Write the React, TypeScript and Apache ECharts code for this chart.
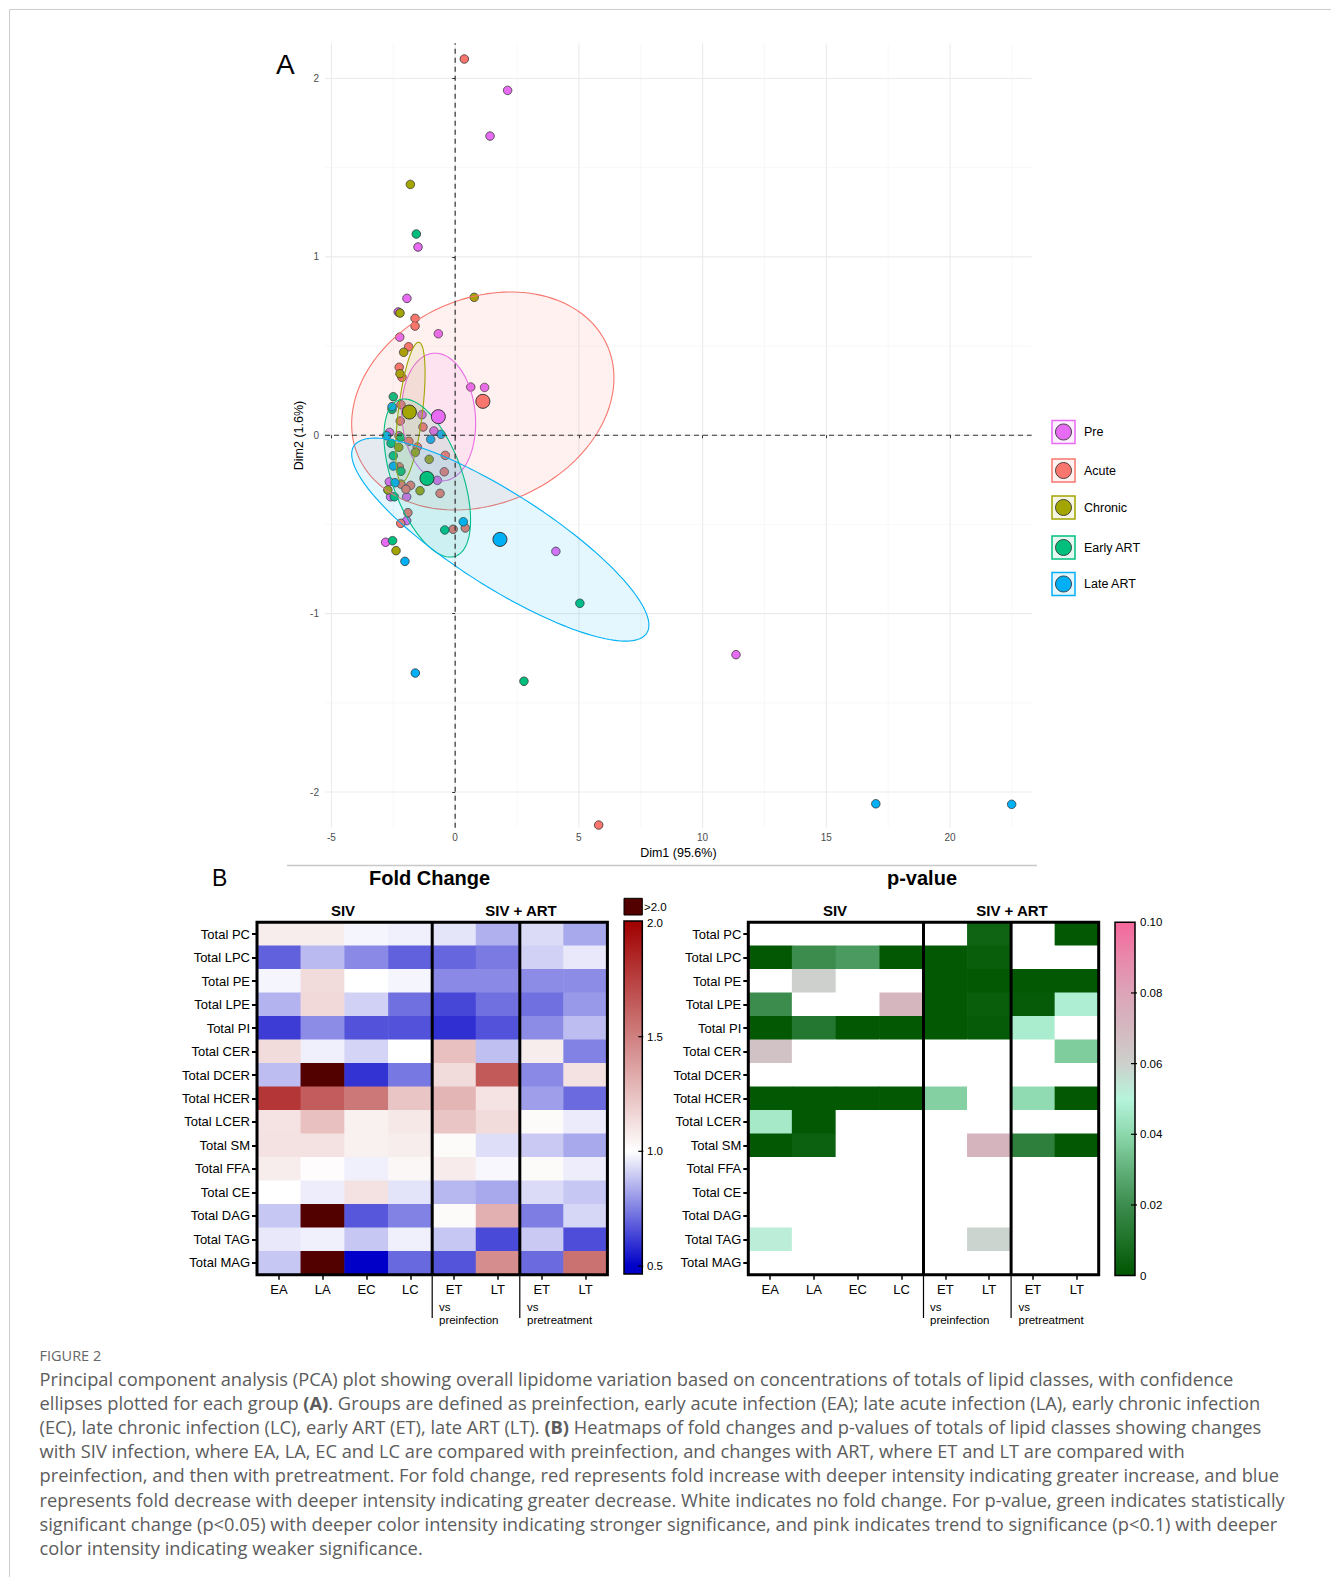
import React, { useEffect, useRef } from 'react';
import * as echarts from 'echarts';

// ---------------- Panel A : PCA ----------------
const groupNames = ['Pre', 'Acute', 'Chronic', 'Early ART', 'Late ART'];
const groupColors = ['#E76BF3', '#F8766D', '#A3A500', '#00BF7D', '#00B0F6'];

const prePoints = [[2.12,1.933],[1.41,1.677],[-1.50,1.055],[-1.95,0.767],[-2.30,0.691],[-0.68,0.569],[-2.24,0.550],[0.63,0.270],[1.19,0.268],[-1.34,0.115],[-0.86,0.024],[-2.65,0.016],[-2.27,-0.003],[-0.72,-0.253],[-2.66,-0.261],[-2.61,-0.345],[-1.96,-0.345],[-1.96,-0.479],[-2.81,-0.600],[4.07,-0.651],[11.35,-1.230]];
const acutePoints = [[0.37,2.109],[-1.62,0.655],[-1.62,0.612],[-1.88,0.496],[-2.26,0.381],[-2.15,0.325],[-2.19,0.171],[-2.22,0.080],[-1.30,0.046],[-1.87,-0.034],[-1.53,-0.066],[-0.40,-0.113],[-2.26,-0.177],[-0.44,-0.205],[-1.80,-0.281],[-2.19,-0.274],[-1.99,-0.303],[-0.61,-0.326],[-1.91,-0.434],[-2.20,-0.494],[-0.08,-0.527],[0.41,-0.520],[5.80,-2.185]];
const chronicPoints = [[-1.81,1.406],[0.77,0.773],[-2.23,0.685],[-2.08,0.465],[-2.23,0.345],[-2.28,-0.068],[-1.61,-0.096],[-1.05,-0.135],[-2.72,-0.307],[-1.42,-0.311],[-2.39,-0.647]];
const earlyArtPoints = [[-1.57,1.128],[-2.50,0.216],[-2.55,0.145],[-2.20,-0.012],[-2.59,-0.045],[-2.50,-0.115],[-2.19,-0.202],[-2.46,-0.345],[-0.42,-0.531],[-2.53,-0.591],[5.04,-0.942],[2.78,-1.379]];
const lateArtPoints = [[-2.55,0.160],[-0.57,0.005],[-2.77,-0.003],[-0.99,-0.023],[-2.50,-0.173],[-2.43,-0.266],[0.33,-0.485],[-2.03,-0.707],[-1.61,-1.333],[17.0,-2.066],[22.49,-2.069]];
const groupPoints = [prePoints, acutePoints, chronicPoints, earlyArtPoints, lateArtPoints];

// group means (large points)
const centroids = [[-0.68,0.104],[1.12,0.190],[-1.85,0.130],[-1.14,-0.242],[1.81,-0.584]];
// confidence ellipses: [centre x, centre y, half width, half height, y offset of right-most point]
const ellipses = [
  [-0.667, 0.102, 1.495, 0.358, -0.034],
  [1.117, 0.192, 5.30, 0.611, 0.129],
  [-1.81, 0.130, 0.594, 0.391, 0.219],
  [-1.127, -0.240, 1.75, 0.443, -0.235],
  [1.824, -0.585, 6.006, 0.569, -0.479],
];

const xLim = [-5.26, 23.3];
const yLim = [-2.2, 2.197];
const xTicks = [-5, 0, 5, 10, 15, 20];
const xMinor = [-2.5, 2.5, 7.5, 12.5, 17.5, 22.5];
const yTicks = [-2, -1, 0, 1, 2];
const yMinor = [-1.5, -0.5, 0.5, 1.5];

// ---------------- Panel B : heatmaps ----------------
const rowLabels = ['Total PC','Total LPC','Total PE','Total LPE','Total PI','Total CER','Total DCER','Total HCER','Total LCER','Total SM','Total FFA','Total CE','Total DAG','Total TAG','Total MAG'];
const colKeys = ['EA','LA','EC','LC','ET1','LT1','ET2','LT2'];
const colLabels = ['EA','LA','EC','LC','ET','LT','ET','LT'];

// 2.5 stands for ">2.0"
const foldChange = [
  [1.07,1.07,0.98,0.97,0.95,0.845,0.93,0.83],
  [0.69,0.865,0.77,0.69,0.70,0.74,0.91,0.955],
  [0.98,1.14,1.0,0.98,0.77,0.77,0.775,0.775],
  [0.85,1.15,0.91,0.72,0.64,0.72,0.72,0.80],
  [0.62,0.775,0.66,0.66,0.595,0.66,0.775,0.87],
  [1.14,0.97,0.915,1.0,1.25,0.875,1.07,0.755],
  [0.87,2.5,0.60,0.735,1.14,1.65,0.77,1.12],
  [1.79,1.64,1.53,1.23,1.29,1.11,0.81,0.71],
  [1.11,1.25,1.06,1.09,1.23,1.14,1.02,0.96],
  [1.12,1.12,1.06,1.07,1.02,0.935,0.895,0.83],
  [1.07,1.01,0.97,1.03,1.08,0.985,1.02,0.965],
  [1.0,0.965,1.12,0.945,0.86,0.83,0.93,0.89],
  [0.89,2.5,0.67,0.755,1.02,1.31,0.745,0.92],
  [0.955,0.97,0.89,0.97,0.89,0.645,0.895,0.65],
  [0.89,2.5,0.5,0.705,0.665,1.45,0.71,1.56],
];
// 1 = not significant (p > 0.1)
const pValues = [
  [1,1,1,1,1,0.005,1,0.001],
  [0.001,0.02,0.024,0.001,0.001,0.003,1,1],
  [1,0.06,1,1,0.001,0.001,0.001,0.001],
  [0.02,1,1,0.071,0.001,0.003,0.002,0.048],
  [0.001,0.012,0.001,0.001,0.001,0.002,0.047,1],
  [0.066,1,1,1,1,1,1,0.037],
  [1,1,1,1,1,1,1,1],
  [0.001,0.001,0.001,0.001,0.038,1,0.041,0.001],
  [0.046,0.001,1,1,1,1,1,1],
  [0.001,0.004,1,1,1,0.072,0.015,0.001],
  [1,1,1,1,1,1,1,1],
  [1,1,1,1,1,1,1,1],
  [1,1,1,1,1,1,1,1],
  [0.052,1,1,1,1,0.059,1,1],
  [1,1,1,1,1,1,1,1],
];

const foldScaleMin = 0.5;
const foldScaleMax = 2.0;
const foldColors = ['#0000c8', '#ffffff', '#d08080', '#a00000']; // 0.5, 1.0, 1.5, 2.0
const foldOver = '#520000';
const foldBarTicks = [2.0, 1.5, 1.0, 0.5];
const pScaleMax = 0.1;
const pColors = ['#005500','#1e7228','#3c8c4e','#62b07a','#8cd8ac','#b6f4dc','#cdd0cc','#d4b8c0','#dca4b8','#e888aa','#f4689c']; // 0 .. 0.10
const pBarTicks = [0.1, 0.08, 0.06, 0.04, 0.02, 0];
const pBarTickLabels = ['0.10', '0.08', '0.06', '0.04', '0.02', '0'];

const captionLines = [
  'Principal component analysis (PCA) plot showing overall lipidome variation based on concentrations of totals of lipid classes, with confidence',
  'ellipses plotted for each group {b|(A)}. Groups are defined as preinfection, early acute infection (EA); late acute infection (LA), early chronic infection',
  '(EC), late chronic infection (LC), early ART (ET), late ART (LT). {b|(B)} Heatmaps of fold changes and p-values of totals of lipid classes showing changes',
  'with SIV infection, where EA, LA, EC and LC are compared with preinfection, and changes with ART, where ET and LT are compared with',
  'preinfection, and then with pretreatment. For fold change, red represents fold increase with deeper intensity indicating greater increase, and blue',
  'represents fold decrease with deeper intensity indicating greater decrease. White indicates no fold change. For p-value, green indicates statistically',
  'significant change (p<0.05) with deeper color intensity indicating stronger significance, and pink indicates trend to significance (p<0.1) with deeper',
  'color intensity indicating weaker significance.',
];

// ---------------- layout ----------------
const W = 1331, H = 1577;
const PCA = { left: 325, top: 43.3, width: 706.7, height: 784.4 };
const FC = { left: 257, top: 922.3, width: 350.4, height: 352.4 };
const PV = { left: 748.3, top: 922.3, width: 350.4, height: 352.4 };
const legendY = [432, 470.5, 507.5, 547.5, 584];
const AR = 'Liberation Sans';
const CAP = 'Open Sans';
const CAP_SIZE = 18.3;
const CAP_COLOR = '#5c5c5c';

function txt(text: string, x: number, y: number, o: any = {}) {
  const align = o.align || 'left';
  return {
    type: 'text', x, y, z: 100, silent: true, rotation: o.rotation || 0,
    style: {
      text, fill: o.fill || '#000', fontSize: o.size || 12, fontFamily: o.family || AR,
      fontWeight: o.weight || 'normal', align, textAlign: align,
      verticalAlign: 'middle', textVerticalAlign: 'middle', rich: o.rich,
    },
  };
}
function ln(x1: number, y1: number, x2: number, y2: number, stroke: string, lw: number) {
  return { type: 'line', z: 100, silent: true, shape: { x1, y1, x2, y2 }, style: { stroke, lineWidth: lw } };
}

function heatFrame(g: any, labelX: number[]) {
  const cw = g.width / 8;
  const bottom = g.top + g.height;
  const s1 = g.left + cw * 4, s2 = g.left + cw * 6;
  return [
    { type: 'rect', z: 100, silent: true, shape: { x: g.left, y: g.top, width: g.width, height: g.height }, style: { fill: 'none', stroke: '#000', lineWidth: 3 } },
    ln(s1, g.top, s1, bottom, '#000', 3),
    ln(s2, g.top, s2, bottom, '#000', 3),
    ln(s1, bottom, s1, 1318, '#000', 1.2),
    ln(s2, bottom, s2, 1318, '#000', 1.2),
    txt('vs', labelX[0], 1307, { size: 11.5 }),
    txt('preinfection', labelX[0], 1320, { size: 11.5 }),
    txt('vs', labelX[1], 1307, { size: 11.5 }),
    txt('pretreatment', labelX[1], 1320, { size: 11.5 }),
  ];
}

function buildOption() {
  const foldData: any[] = [];
  const pData: any[] = [];
  rowLabels.forEach((_, i) => {
    colKeys.forEach((_, j) => {
      foldData.push([j, i, foldChange[i][j]]);
      pData.push([j, i, pValues[i][j]]);
    });
  });

  const series: any[] = [];
  // grid lines
  series.push({
    type: 'custom', xAxisIndex: 0, yAxisIndex: 0, z: 0, silent: true,
    data: xTicks.map(v => [v, 1]).concat(xMinor.map(v => [v, 0])),
    encode: { x: 0, y: 1 },
    renderItem: (p: any, api: any) => {
      const v = api.value(0); const major = api.value(1);
      const a = api.coord([v, yLim[0]]); const b = api.coord([v, yLim[1]]);
      return { type: 'line', shape: { x1: a[0], y1: a[1], x2: b[0], y2: b[1] }, style: { stroke: major ? '#ebebeb' : '#f3f3f3', lineWidth: major ? 1.1 : 0.6 } };
    },
  });
  series.push({
    type: 'custom', xAxisIndex: 0, yAxisIndex: 0, z: 0, silent: true,
    data: yTicks.map(v => [xLim[0], v, 1]).concat(yMinor.map(v => [xLim[0], v, 0])),
    encode: { x: 0, y: 1 },
    renderItem: (p: any, api: any) => {
      const v = api.value(1); const major = api.value(2);
      const a = api.coord([xLim[0], v]); const b = api.coord([xLim[1], v]);
      return { type: 'line', shape: { x1: a[0], y1: a[1], x2: b[0], y2: b[1] }, style: { stroke: major ? '#ebebeb' : '#f3f3f3', lineWidth: major ? 1.1 : 0.6 } };
    },
  });
  // individual points
  groupPoints.forEach((pts, gi) => {
    series.push({
      type: 'scatter', name: groupNames[gi], xAxisIndex: 0, yAxisIndex: 0, z: 2,
      data: pts, symbolSize: 8.5,
      itemStyle: { color: groupColors[gi], borderColor: '#333', borderWidth: 0.8, opacity: 1 },
    });
  });
  // ellipses
  series.push({
    type: 'custom', xAxisIndex: 0, yAxisIndex: 0, z: 3, silent: true,
    data: ellipses.map((e, i) => [...e, i]),
    encode: { x: 0, y: 1 },
    renderItem: (p: any, api: any) => {
      const cx = api.value(0), cy = api.value(1), w = api.value(2), h = api.value(3), dy = api.value(4), gi = api.value(5);
      const k = Math.sqrt(Math.max(h * h - dy * dy, 0));
      const pts: number[][] = [];
      const n = 160;
      for (let i = 0; i < n; i++) {
        const t = (i / n) * Math.PI * 2;
        pts.push(api.coord([cx + w * Math.cos(t), cy + dy * Math.cos(t) + k * Math.sin(t)]));
      }
      const c = groupColors[gi];
      return { type: 'polygon', shape: { points: pts }, style: { fill: echarts.color.modifyAlpha(c, 0.1), stroke: c, lineWidth: 1.1 } };
    },
  });
  // dashed zero lines
  series.push({
    type: 'custom', xAxisIndex: 0, yAxisIndex: 0, z: 4, silent: true,
    data: [[0, 0]], encode: { x: 0, y: 1 },
    renderItem: (p: any, api: any) => {
      const a = api.coord([0, yLim[0]]), b = api.coord([0, yLim[1]]);
      const c = api.coord([xLim[0], 0]), d = api.coord([xLim[1], 0]);
      const st = { stroke: '#333', lineWidth: 1.2, lineDash: [5, 4] };
      return { type: 'group', children: [
        { type: 'line', shape: { x1: a[0], y1: a[1], x2: b[0], y2: b[1] }, style: st },
        { type: 'line', shape: { x1: c[0], y1: c[1], x2: d[0], y2: d[1] }, style: st },
      ] };
    },
  });
  // centroids
  series.push({
    type: 'scatter', xAxisIndex: 0, yAxisIndex: 0, z: 5, symbolSize: 14,
    data: centroids.map((c, i) => ({ value: c, itemStyle: { color: groupColors[i] } })),
    itemStyle: { borderColor: '#333', borderWidth: 1, opacity: 1 },
  });
  const foldIdx = series.length;
  series.push({ type: 'heatmap', xAxisIndex: 1, yAxisIndex: 1, data: foldData, z: 2, itemStyle: { borderWidth: 0 } });
  const pIdx = series.length;
  series.push({ type: 'heatmap', xAxisIndex: 2, yAxisIndex: 2, data: pData, z: 2, itemStyle: { borderWidth: 0 } });

  const catX = (gi: number) => ({
    type: 'category', gridIndex: gi, data: colKeys,
    axisLine: { show: false }, splitLine: { show: false },
    axisTick: { show: true, alignWithLabel: true, length: 5, lineStyle: { color: '#000', width: 1.5 } },
    axisLabel: { interval: 0, margin: 8, fontSize: 13, color: '#000', fontFamily: AR, formatter: (_v: any, i: number) => colLabels[i] },
  });
  const catY = (gi: number) => ({
    type: 'category', gridIndex: gi, data: rowLabels, inverse: true,
    axisLine: { show: false }, splitLine: { show: false },
    axisTick: { show: true, alignWithLabel: true, length: 5, lineStyle: { color: '#000', width: 2 } },
    axisLabel: { interval: 0, margin: 7, fontSize: 13, color: '#000', fontFamily: AR },
  });

  // visual maps: the map extends past the drawn scale so that values beyond it are "out of range"
  const foldMapMax = 2.5;
  const foldMapColors = foldColors.concat([foldColors[foldColors.length - 1]]); // 0.5..2.5 in steps of 0.5
  const pMapMax = 1;
  const pMapColors: string[] = [];
  for (let i = 0; i <= 100; i++) pMapColors.push(pColors[Math.min(i, pColors.length - 1)]);

  // ---- colour bars ----
  const fbX = 624, fbW = 18.3, fbTop = 921, fbBot = 1274;
  const fy = (v: number) => 922 + ((foldScaleMax - v) / (foldScaleMax - foldScaleMin)) * (1266 - 922);
  const foldStops = foldColors.map((c, i) => {
    const v = foldScaleMin + (i / (foldColors.length - 1)) * (foldScaleMax - foldScaleMin);
    return { offset: Math.min(1, Math.max(0, (fy(v) - fbTop) / (fbBot - fbTop))), color: c };
  }).reverse();
  const pbX = 1115, pbW = 20, pbTop = 922.3, pbBot = 1275.6;
  const py = (v: number) => pbBot - (v / pScaleMax) * (pbBot - pbTop);
  const pStops = pColors.map((c, i) => ({ offset: 1 - i / (pColors.length - 1), color: c })).reverse();

  const graphics: any[] = [
    { type: 'rect', z: 0, silent: true, shape: { x: 9.5, y: 9.5, width: 1400, height: 1600 }, style: { fill: 'none', stroke: '#cccccc', lineWidth: 1 } },
    txt('A', 276, 64, { size: 28 }),
    txt('B', 212, 878, { size: 23 }),
    ln(287, 865.5, 1037, 865.5, '#c8c8c8', 1.5),
    txt('Fold Change', 429.5, 878, { size: 20, weight: 'bold', align: 'center' }),
    txt('p-value', 922, 878, { size: 20, weight: 'bold', align: 'center' }),
    txt('SIV', 343, 910, { size: 15, weight: 'bold', align: 'center' }),
    txt('SIV + ART', 521, 910, { size: 15, weight: 'bold', align: 'center' }),
    txt('SIV', 835, 910, { size: 15, weight: 'bold', align: 'center' }),
    txt('SIV + ART', 1012, 910, { size: 15, weight: 'bold', align: 'center' }),
    ...heatFrame(FC, [439, 527]),
    ...heatFrame(PV, [930, 1018.5]),
    // fold colour bar
    { type: 'rect', z: 100, silent: true, shape: { x: fbX, y: 898.3, width: fbW, height: 16.7 }, style: { fill: foldOver, stroke: '#000', lineWidth: 1 } },
    { type: 'rect', z: 100, silent: true, shape: { x: fbX, y: fbTop, width: fbW, height: fbBot - fbTop },
      style: { fill: new echarts.graphic.LinearGradient(0, 0, 0, 1, foldStops), stroke: '#000', lineWidth: 1.5 } },
    txt('>2.0', 644, 906.5, { size: 11.5 }),
    ...foldBarTicks.map(v => txt(v.toFixed(1), 647, fy(v) + (v === 2 ? 1 : 0), { size: 11.5 })),
    ...foldBarTicks.filter(v => v < 2).map(v => ln(fbX + fbW - 4, fy(v), fbX + fbW + 1, fy(v), '#000', 1.2)),
    // p colour bar
    { type: 'rect', z: 100, silent: true, shape: { x: pbX, y: pbTop, width: pbW, height: pbBot - pbTop },
      style: { fill: new echarts.graphic.LinearGradient(0, 0, 0, 1, pStops), stroke: '#000', lineWidth: 1.5 } },
    ...pBarTicks.map((v, i) => txt(pBarTickLabels[i], 1140, py(v), { size: 11.5 })),
    ...pBarTicks.filter(v => v > 0 && v < 0.1).map(v => ln(pbX + pbW - 4, py(v), pbX + pbW + 2, py(v), '#000', 1.2)),
    // caption
    txt('FIGURE 2', 39.5, 1355, { size: 14.5, family: CAP, fill: '#666' }),
    ...captionLines.map((l, i) => txt(l, 39.5, 1378 + i * 24.2, {
      size: CAP_SIZE, family: CAP, fill: CAP_COLOR,
      rich: { b: { fontWeight: 'bold', fontSize: CAP_SIZE, fontFamily: CAP, fill: CAP_COLOR } },
    })),
  ];
  // legend
  groupNames.forEach((g, i) => {
    const y = legendY[i];
    graphics.push({ type: 'rect', z: 100, silent: true, shape: { x: 1052, y: y - 11.5, width: 23, height: 23 },
      style: { fill: echarts.color.modifyAlpha(groupColors[i], 0.1), stroke: groupColors[i], lineWidth: 1.5 } });
    graphics.push({ type: 'circle', z: 101, silent: true, shape: { cx: 1063.5, cy: y, r: 8 },
      style: { fill: groupColors[i], stroke: '#333', lineWidth: 0.9 } });
    graphics.push(txt(g, 1084, y, { size: 12.5 }));
  });

  return {
    animation: false,
    backgroundColor: '#fff',
    textStyle: { fontFamily: AR },
    grid: [
      { left: PCA.left, top: PCA.top, width: PCA.width, height: PCA.height, containLabel: false, outerBoundsMode: 'none' },
      { left: FC.left, top: FC.top, width: FC.width, height: FC.height, containLabel: false, outerBoundsMode: 'none' },
      { left: PV.left, top: PV.top, width: PV.width, height: PV.height, containLabel: false, outerBoundsMode: 'none' },
    ],
    xAxis: [
      {
        type: 'value', gridIndex: 0, min: xLim[0], max: xLim[1],
        axisLine: { show: false }, splitLine: { show: false },
        axisTick: { show: true, customValues: xTicks, length: 3, lineStyle: { color: '#333' } },
        axisLabel: { customValues: xTicks, color: '#4d4d4d', fontSize: 10, margin: 5, fontFamily: AR },
        name: 'Dim1 (95.6%)', nameLocation: 'middle', nameGap: 19,
        nameTextStyle: { fontSize: 12.5, color: '#000', fontFamily: AR },
      },
      catX(1), catX(2),
    ],
    yAxis: [
      {
        type: 'value', gridIndex: 0, min: yLim[0], max: yLim[1],
        axisLine: { show: false }, splitLine: { show: false },
        axisTick: { show: true, customValues: yTicks, length: 3, lineStyle: { color: '#333' } },
        axisLabel: { customValues: yTicks, color: '#4d4d4d', fontSize: 10, margin: 6, fontFamily: AR },
        name: 'Dim2 (1.6%)', nameLocation: 'middle', nameGap: 20, nameMoveOverlap: false,
        nameTextStyle: { fontSize: 12.5, color: '#000', fontFamily: AR },
      },
      catY(1), catY(2),
    ],
    visualMap: [
      { type: 'continuous', show: false, seriesIndex: foldIdx, dimension: 2, min: foldScaleMin, max: foldMapMax,
        range: [foldScaleMin, foldScaleMax], inRange: { color: foldMapColors }, outOfRange: { color: foldOver } },
      { type: 'continuous', show: false, seriesIndex: pIdx, dimension: 2, min: 0, max: pMapMax,
        range: [0, pScaleMax], inRange: { color: pMapColors }, outOfRange: { color: '#ffffff' } },
    ],
    series,
    graphic: { elements: graphics },
  };
}

export default function App() {
  const ref = useRef<HTMLDivElement>(null);
  useEffect(() => {
    if (!ref.current) return;
    const chart = echarts.init(ref.current, null, { renderer: 'svg' });
    chart.setOption(buildOption() as any);
    return () => chart.dispose();
  }, []);
  return <div ref={ref} style={{ position: 'absolute', left: 0, top: 0, width: W, height: H, background: '#fff' }} />;
}
